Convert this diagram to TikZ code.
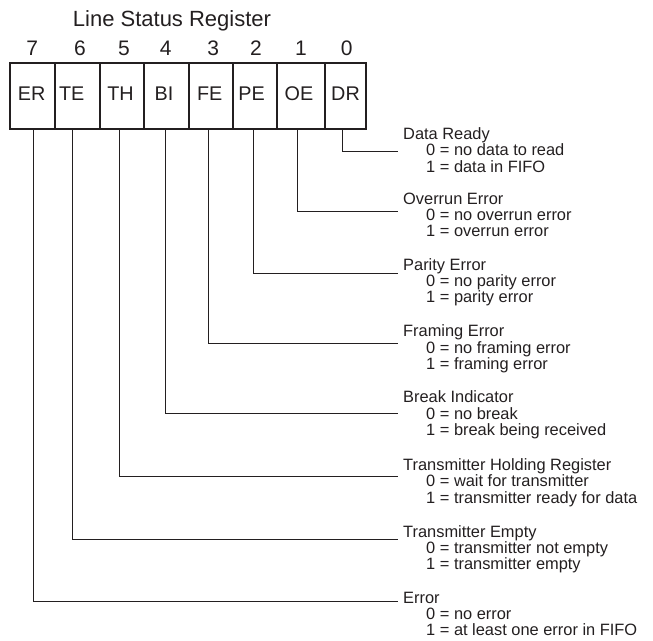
\documentclass[tikz,border=0pt]{standalone}
\usepackage{fontspec}
\setmainfont{Liberation Sans}
\definecolor{ink}{RGB}{35,31,32}
\begin{document}
\begin{tikzpicture}[x=1pt,y=-1pt,
  cell/.style={draw=ink,line width=2pt,minimum height=65.5pt,inner sep=0pt,anchor=north west},
  lbl/.style={text=ink,inner sep=0pt,anchor=base,font=\fontsize{19.8}{20}\selectfont},
  dig/.style={text=ink,inner sep=0pt,anchor=base,font=\fontsize{21}{22}\selectfont},
  desc/.style={text=ink,inner sep=0pt,anchor=base west,font=\fontsize{16.4}{16.4}\selectfont},
  conn/.style={draw=ink,line width=1pt}]
\useasboundingbox (0,0) rectangle (653,640);
\node[dig,font=\fontsize{22}{23}\selectfont] (title) at (172,26.7) {Line Status Register};
\foreach \n/\x/\w in {7/9/45.3, 6/54.3/44.4, 5/98.7/44.6, 4/143.3/44.4, 3/187.7/44.3, 2/232/44, 1/276/48.3, 0/324.3/40.7}
  \node[cell,minimum width=\w pt] (c\n) at (\x,62) {};
\foreach \n/\t/\x in {7/ER/31.7, 6/TE/71.7, 5/TH/120.5, 4/BI/164, 3/FE/209.7, 2/PE/251.7, 1/OE/299, 0/DR/345.5}
  \node[lbl] (l\n) at (\x,100) {\t};
\foreach \n/\x in {7/32.3, 6/80, 5/124, 4/165.7, 3/213.3, 2/256, 1/301, 0/346.7}
  \node[dig] (d\n) at (\x,55) {\n};
\foreach \n/\x/\ly/\tb/\ti/\z/\o in {
  7/33.3/601.5/603.3/Error/no error/at least one error in FIFO,
  6/72.7/539/537.2/Transmitter Empty/transmitter not empty/transmitter empty,
  5/119/476.5/470.5/Transmitter Holding Register/wait for transmitter/transmitter ready for data,
  4/165.7/413.3/402.7/Break Indicator/no break/break being received,
  3/208.7/343.3/336.7/Framing Error/no framing error/framing error,
  2/253.7/273.3/270/Parity Error/no parity error/parity error,
  1/297.7/211.7/204/Overrun Error/no overrun error/overrun error,
  0/342/151/139.4/Data Ready/no data to read/data in FIFO}{
  \coordinate (s\n) at (\x,0);
  \coordinate (e\n) at (398,\ly);
  \node[desc] (t\n) at (403,\tb) {\ti};
  \node[desc] (z\n) at (426,\tb+16.3) {0 = \z};
  \node[desc] (o\n) at (426,\tb+32.6) {1 = \o};
  \draw[conn] (c\n.south -| s\n) |- (e\n);
}
\end{tikzpicture}
\end{document}
